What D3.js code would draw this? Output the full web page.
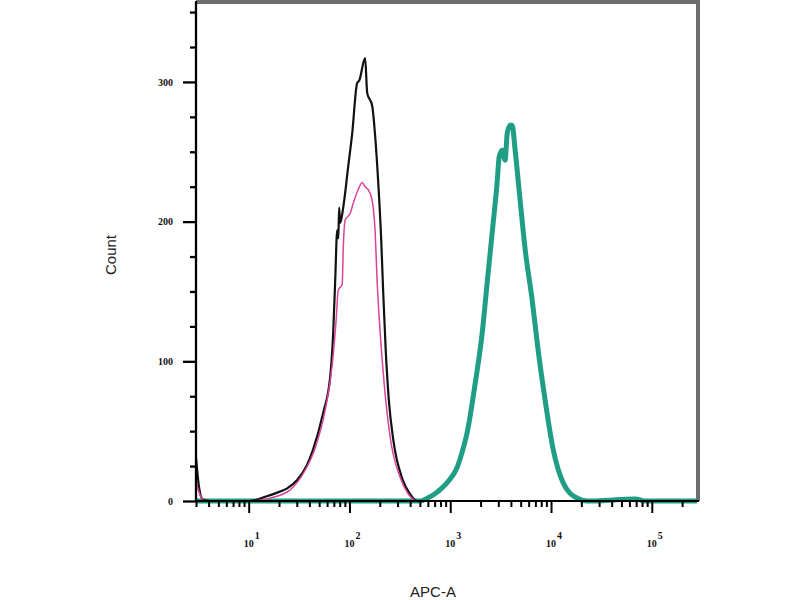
<!DOCTYPE html>
<html>
<head>
<meta charset="utf-8">
<script src="https://cdn.jsdelivr.net/npm/d3@7"></script>
<style>
	body { margin: 0; background: #fff; }
	svg { display: block; }
</style>
</head>
<body>
<div id="chart"></div>
<script>
// histogram traces: [APC-A value, count]
var blackTrace = [
	[3.0, 31], [3.2, 11], [3.5, 1], [4.1, 0], [10.3, 0], [14.6, 3], [19.2, 6], [24.1, 9],
	[30.3, 15], [38, 26], [43.6, 37], [54.8, 63], [64.4, 89], [68.9, 120], [72.2, 158],
	[75.6, 194], [77.5, 188], [79, 210], [80.9, 199], [86.7, 210], [97, 239], [106.4, 263],
	[119, 299], [125, 301], [143, 317], [150, 292], [168, 283], [180, 261], [193, 228],
	[206, 189], [216, 150], [229, 108], [246, 72], [272, 44], [334, 16], [400, 5], [470, 0],
	[281000, 0]
];
var pinkTrace = [
	[3.0, 14], [3.3, 4], [3.6, 0], [10.3, 0], [16.3, 2], [25.8, 8], [36.3, 22], [45.7, 38],
	[57.4, 65], [67.3, 97], [73.8, 130], [77.3, 151], [84.7, 155], [86.7, 180], [90.6, 201],
	[101.6, 206], [108.9, 213], [122, 223], [134, 228], [143, 225], [153, 223], [168, 215],
	[180, 192], [188, 158], [202, 120], [221, 84], [253, 46], [318, 17], [383, 5], [449, 0]
];
var tealTrace = [
	[3.0, 0], [504, 0], [591, 2], [700, 5], [820, 9], [953, 14], [1170, 24], [1312, 35],
	[1472, 49], [1767, 84], [2074, 120], [2324, 156], [2607, 192], [2920, 228], [3056, 246],
	[3273, 251], [3507, 244], [3673, 263], [3930, 269], [4115, 269], [4408, 251], [4942, 215],
	[5540, 180], [6500, 144], [7450, 108], [8750, 72], [10500, 37], [13200, 13], [18200, 2],
	[22800, 0], [48500, 1], [68400, 1.5], [85500, 0], [281000, 0]
];

var xDecades = [1, 2, 3, 4, 5];
var yMajor = [0, 100, 200, 300];
var yMinor = [25, 50, 75, 125, 150, 175, 225, 250, 275, 325, 350];

var width = 800, height = 600;
var plotLeft = 196, plotRight = 697, plotTop = 3, plotBottom = 501;

var svg = d3.select("#chart").append("svg")
		.attr("width", width)
		.attr("height", height);

var xScale = d3.scaleLog()
		.domain([3.0, 281000])
		.range([plotLeft, plotRight]);
var yScale = d3.scaleLinear()
		.domain([0, 356.5])
		.range([plotBottom, plotTop]);

// frame: grey top/right, black left/bottom
svg.append("path")
	.attr("d", "M" + plotLeft + "," + (plotTop - 1) + " L" + (plotRight + 1) + "," + (plotTop - 1) + " L" + (plotRight + 1) + "," + plotBottom)
	.attr("fill", "none")
	.attr("stroke", "#6e6e6e")
	.attr("stroke-width", 4);

var lineGen = d3.line()
		.curve(d3.curveMonotoneX)
		.x(function(d) { return xScale(d[0]); })
		.y(function(d) { return yScale(d[1]); });

svg.append("defs").append("clipPath").attr("id", "clip")
	.append("rect")
	.attr("x", plotLeft).attr("y", plotTop)
	.attr("width", plotRight - plotLeft).attr("height", plotBottom - plotTop + 3);

var traces = svg.append("g").attr("clip-path", "url(#clip)");

traces.append("path")
	.datum(tealTrace)
	.attr("d", lineGen)
	.attr("fill", "none")
	.attr("stroke", "#1f9e85")
	.attr("stroke-width", 5)
	.attr("stroke-linejoin", "round");

traces.append("path")
	.datum(blackTrace)
	.attr("d", lineGen)
	.attr("fill", "none")
	.attr("stroke", "#111")
	.attr("stroke-width", 2.2)
	.attr("stroke-linejoin", "round");

traces.append("path")
	.datum(pinkTrace)
	.attr("d", lineGen)
	.attr("fill", "none")
	.attr("stroke", "#d9439a")
	.attr("stroke-width", 1.5)
	.attr("stroke-linejoin", "round");

// y axis
var yAxisG = svg.append("g").attr("transform", "translate(" + plotLeft + ",0)");
yAxisG.call(d3.axisLeft(yScale).tickValues(yMinor).tickSize(6).tickFormat(""));
yAxisG.append("g").call(d3.axisLeft(yScale).tickValues(yMajor).tickSize(13).tickPadding(10));
yAxisG.selectAll("path.domain").remove();
yAxisG.append("line")
	.attr("x1", 0).attr("x2", 0).attr("y1", plotTop - 2).attr("y2", plotBottom + 1)
	.attr("stroke", "#000").attr("stroke-width", 2);
yAxisG.selectAll("line").attr("stroke-width", 2.3).attr("stroke", "#000");
yAxisG.selectAll("text")
	.attr("font-family", "Liberation Serif")
	.attr("font-weight", "bold")
	.attr("font-size", 10)
	.attr("fill", "#111");

// x axis
var minorX = [];
for (var e = 0; e <= 5; e++) {
	for (var m = 2; m <= 9; m++) {
		var v = m * Math.pow(10, e);
		if (v >= 3 && v <= 281000) minorX.push(v);
	}
}
var xAxisG = svg.append("g").attr("transform", "translate(0," + plotBottom + ")");
xAxisG.call(d3.axisBottom(xScale).tickValues(minorX).tickSize(6).tickFormat(""));
xAxisG.append("g").call(d3.axisBottom(xScale)
		.tickValues(xDecades.map(function(k) { return Math.pow(10, k); }))
		.tickSize(12).tickFormat(""));
xAxisG.selectAll("path.domain").remove();
xAxisG.append("line")
	.attr("x1", plotLeft - 1).attr("x2", plotRight + 2).attr("y1", 0).attr("y2", 0)
	.attr("stroke", "#000").attr("stroke-width", 2.5);
xAxisG.selectAll("line").attr("stroke-width", 2).attr("stroke", "#000");

var xLabels = xAxisG.selectAll(".xlab")
		.data(xDecades)
		.enter()
		.append("text")
		.attr("class", "xlab")
		.attr("x", function(k) { return xScale(Math.pow(10, k)) + 3; })
		.attr("y", 46)
		.attr("font-family", "Liberation Serif")
		.attr("font-weight", "bold")
		.attr("font-size", 10)
		.attr("fill", "#111");
xLabels.append("tspan").text("10");
xLabels.append("tspan")
	.attr("dy", -8)
	.attr("dx", 1)
	.attr("font-size", 10)
	.text(function(k) { return k; });

// axis titles
svg.append("text")
	.attr("x", 433)
	.attr("y", 597)
	.attr("text-anchor", "middle")
	.attr("font-family", "Liberation Sans")
	.attr("font-size", 15)
	.attr("fill", "#222")
	.text("APC-A");

svg.append("text")
	.attr("transform", "translate(116,255) rotate(-90)")
	.attr("text-anchor", "middle")
	.attr("font-family", "Liberation Sans")
	.attr("font-size", 15)
	.attr("fill", "#222")
	.text("Count");
</script>
</body>
</html>
